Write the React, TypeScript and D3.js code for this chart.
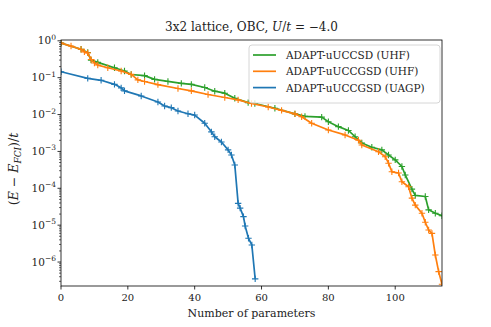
import React from 'react';
import * as d3 from 'd3';

// ADAPT-uUCCSD (UHF)
const uccsdParams = [0, 6, 8, 9, 11, 16, 19, 21, 25, 28, 32, 36, 39, 43, 46, 49, 52, 56, 58, 64, 70, 73, 78, 80, 83, 86, 88, 90, 93, 96, 98, 100, 102, 103, 105, 106, 109, 110, 112, 114];
const uccsdErrors = [0.87, 0.59, 0.48, 0.30, 0.26, 0.186, 0.152, 0.122, 0.114, 0.090, 0.079, 0.070, 0.066, 0.054, 0.043, 0.038, 0.0276, 0.021, 0.020, 0.0148, 0.0104, 0.0089, 0.0085, 0.0064, 0.0047, 0.0037, 0.0025, 0.0017, 0.0013, 0.0011, 0.0008, 0.00059, 0.00039, 0.00023, 0.000095, 0.000064, 0.00006, 0.000026, 0.000021, 0.000018];

// ADAPT-uUCCGSD (UHF)
const uccgsdParams = [0, 3, 6, 7, 8, 9, 10, 11, 14, 18, 21, 23, 25, 29, 35, 39, 44, 49, 53, 57, 62, 66, 70, 72, 75, 80, 85, 89, 90, 95, 97, 98, 99, 101, 102, 104, 105, 106, 108, 109, 110, 111, 112, 113, 114];
const uccgsdErrors = [0.87, 0.72, 0.59, 0.50, 0.47, 0.31, 0.25, 0.22, 0.186, 0.152, 0.123, 0.087, 0.079, 0.065, 0.051, 0.044, 0.035, 0.029, 0.025, 0.020, 0.016, 0.013, 0.0104, 0.0087, 0.0058, 0.0038, 0.0028, 0.0020, 0.0015, 0.00098, 0.00072, 0.00048, 0.00028, 0.00026, 0.00015, 0.00011, 0.000054, 0.000035, 0.000021, 0.000012, 0.0000074, 0.000006, 0.00000155, 0.00000055, 0.00000025];

// ADAPT-uUCCGSD (UAGP)
const uagpParams = [0, 8, 12, 16, 18, 19, 24, 29, 31, 33, 35, 38, 40, 43, 45, 46, 48, 50, 51, 52, 53, 53.6, 54.6, 55.1, 56.1, 57.1, 58.1];
const uagpErrors = [0.145, 0.096, 0.085, 0.066, 0.053, 0.044, 0.032, 0.022, 0.017, 0.0154, 0.0125, 0.0105, 0.0097, 0.0058, 0.0034, 0.0025, 0.0018, 0.0011, 0.0008, 0.00043, 0.000039, 0.000029, 0.000017, 0.0000095, 0.0000044, 0.0000029, 0.00000035];

const seriesLabels = ['ADAPT-uUCCSD (UHF)', 'ADAPT-uUCCGSD (UHF)', 'ADAPT-uUCCGSD (UAGP)'];
const seriesColors = ['#2ca02c', '#ff7f0e', '#1f77b4'];

const xTicks = [0, 20, 40, 60, 80, 100];
const yExponents = [0, -1, -2, -3, -4, -5, -6];

const W = 491;
const H = 327;
const left = 61, right = 442, top = 40, bottom = 286;
const font = '"DejaVu Serif", serif';

export default function App() {
  const x = d3.scaleLinear().domain([0, 114]).range([left, right]);
  const y = d3.scaleLog().domain([Math.pow(10, -6.65), Math.pow(10, 0.022)]).range([bottom, top]);

  const series = [
    { label: seriesLabels[0], color: seriesColors[0], xs: uccsdParams, ys: uccsdErrors },
    { label: seriesLabels[1], color: seriesColors[1], xs: uccgsdParams, ys: uccgsdErrors },
    { label: seriesLabels[2], color: seriesColors[2], xs: uagpParams, ys: uagpErrors },
  ];

  const line = d3.line<[number, number]>().x(d => x(d[0])).y(d => y(d[1]));

  const minorTicks: number[] = [];
  for (let e = -7; e <= 0; e++) {
    for (let m = 2; m <= 9; m++) {
      const v = m * Math.pow(10, e);
      const [lo, hi] = y.domain();
      if (v >= lo && v <= hi) minorTicks.push(v);
    }
  }

  const minus = '\u2212';

  return (
    <svg width={W} height={H} style={{ position: 'absolute', left: 0, top: 0, background: '#fff' }} fontFamily={font}>
      <defs>
        <clipPath id="plot">
          <rect x={left} y={top} width={right - left} height={bottom - top} />
        </clipPath>
      </defs>

      <g clipPath="url(#plot)">
        {series.map(s => {
          const pts = s.xs.map((v, i) => [v, s.ys[i]] as [number, number]);
          return (
            <g key={s.label}>
              <path d={line(pts) || ''} fill="none" stroke={s.color} strokeWidth={1.7} strokeLinejoin="round" />
              {pts.map((p, i) => (
                <path key={i}
                  d={`M${x(p[0]) - 3.2},${y(p[1])}h6.4M${x(p[0])},${y(p[1]) - 3.2}v6.4`}
                  stroke={s.color} strokeWidth={1.1} />
              ))}
            </g>
          );
        })}
      </g>

      {/* frame */}
      <rect x={left} y={top} width={right - left} height={bottom - top} fill="none" stroke="#000" strokeWidth={0.8} />

      {/* x ticks */}
      {xTicks.map(t => (
        <g key={t}>
          <line x1={x(t)} x2={x(t)} y1={bottom} y2={bottom + 3.5} stroke="#000" strokeWidth={0.8} />
          <text x={x(t)} y={bottom + 15} fontSize={10} textAnchor="middle" fill="#222">{t}</text>
        </g>
      ))}

      {/* y ticks */}
      {minorTicks.map((v, i) => (
        <line key={i} x1={left - 2} x2={left} y1={y(v)} y2={y(v)} stroke="#000" strokeWidth={0.6} />
      ))}
      {yExponents.map(e => (
        <g key={e}>
          <line x1={left - 3.5} x2={left} y1={y(Math.pow(10, e))} y2={y(Math.pow(10, e))} stroke="#000" strokeWidth={0.8} />
          <text x={left - 5} y={y(Math.pow(10, e)) + 3.5} fontSize={10.5} textAnchor="end" fill="#222">
            10<tspan fontSize={7.5} dy={-4.5}>{e < 0 ? minus + Math.abs(e) : e}</tspan>
          </text>
        </g>
      ))}

      {/* title */}
      <text x={(left + right) / 2} y={31} fontSize={12} textAnchor="middle" fill="#222">
        3x2 lattice, OBC, <tspan fontStyle="italic">U</tspan>/<tspan fontStyle="italic">t</tspan> = {minus}4.0
      </text>

      {/* x label */}
      <text x={(left + right) / 2} y={317} fontSize={11} textAnchor="middle" fill="#222">Number of parameters</text>

      {/* y label */}
      <text transform={`translate(18,${(top + bottom) / 2 + 6}) rotate(-90)`} fontSize={12.5} textAnchor="middle" fill="#222">
        (<tspan fontStyle="italic">E</tspan> {minus} <tspan fontStyle="italic">E</tspan><tspan fontStyle="italic" fontSize={9} dy={3}>FCI</tspan><tspan dy={-3}>)/</tspan><tspan fontStyle="italic">t</tspan>
      </text>

      {/* legend */}
      <g>
        <rect x={249} y={45} width={191} height={58} rx={3} fill="#fff" fillOpacity={0.8} stroke="#ccc" strokeWidth={0.8} />
        {series.map((s, i) => (
          <g key={s.label} transform={`translate(0,${55 + i * 16.3})`}>
            <line x1={253} x2={276} y1={0} y2={0} stroke={s.color} strokeWidth={1.7} />
            <text x={286} y={4} fontSize={10.5} fill="#222">{s.label}</text>
          </g>
        ))}
      </g>
    </svg>
  );
}
